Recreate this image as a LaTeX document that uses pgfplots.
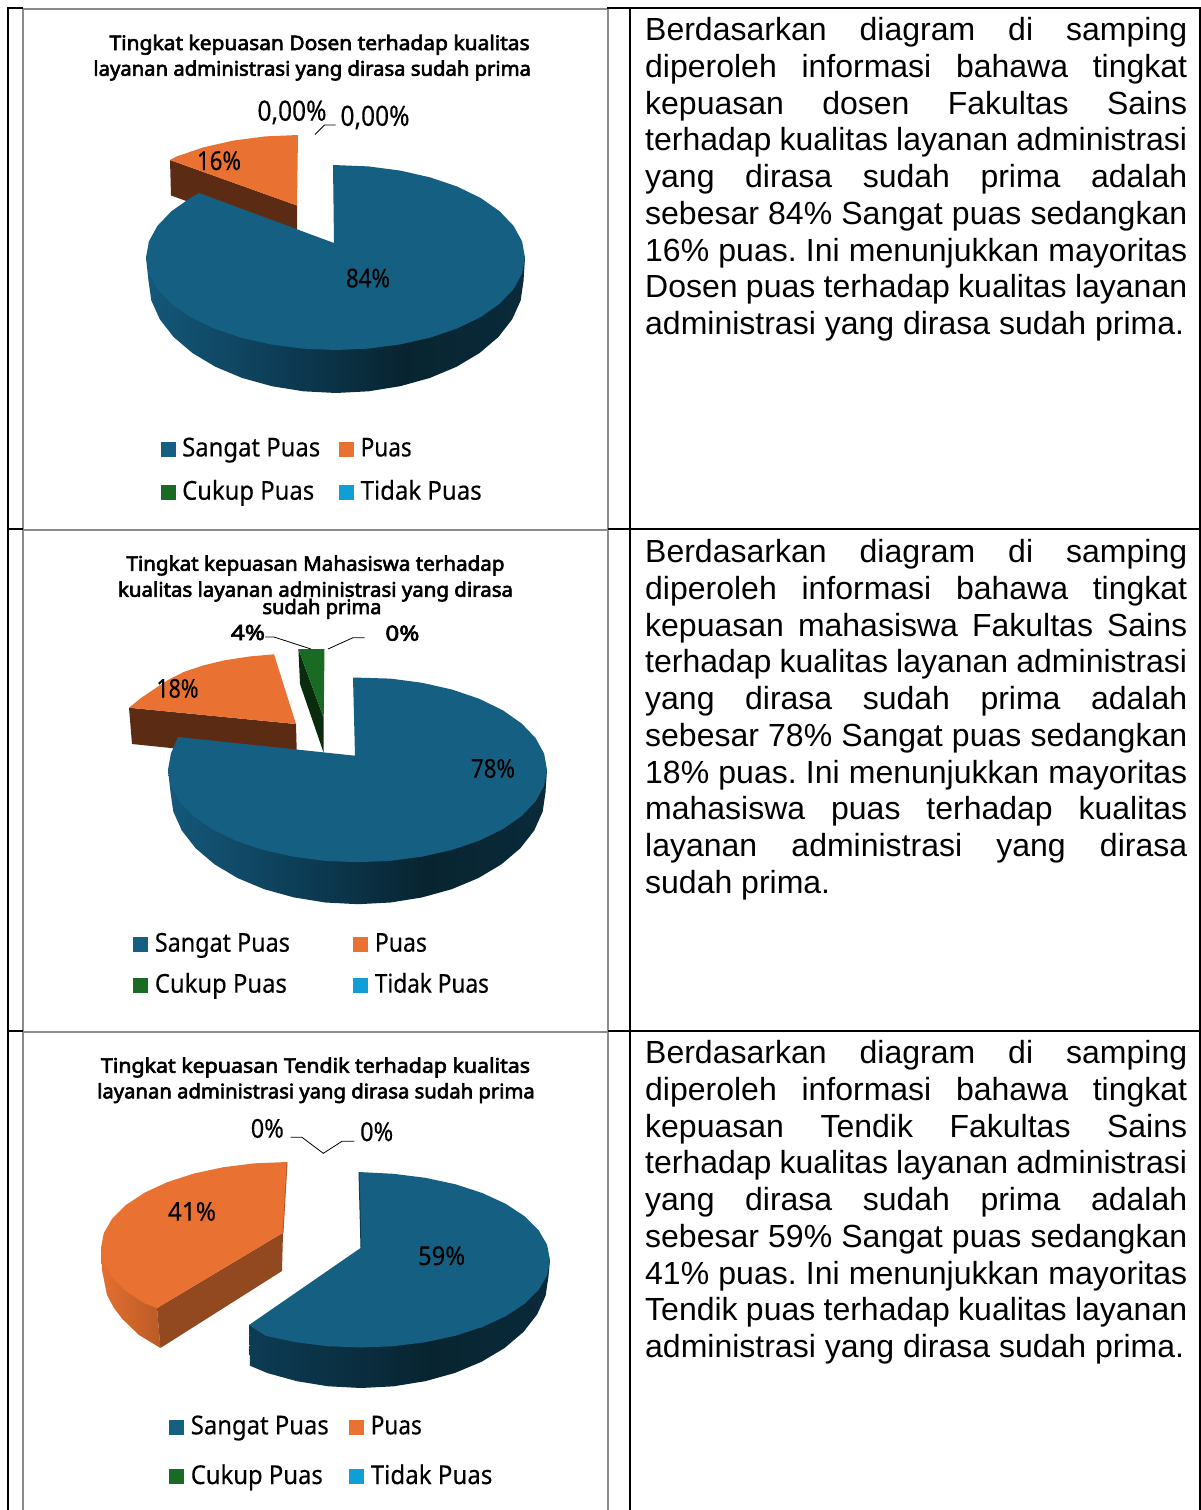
\documentclass[border=0pt]{standalone}
\usepackage{pgfplots}
\usepackage{graphicx}
\usepackage{fontspec}
\pgfplotsset{compat=1.18}
\setmainfont{Liberation Sans}
\newfontfamily\cf[FakeBold=0.25]{Noto Sans}
\newfontfamily\cfb[FakeBold=3]{Noto Sans}
\definecolor{cBlue}{HTML}{156082}
\definecolor{cOrange}{HTML}{E97132}
\definecolor{cGreen}{HTML}{196B24}
\definecolor{cSky}{HTML}{0F9ED5}
\definecolor{cBrown}{HTML}{5C2B14}
\definecolor{cBrownB}{HTML}{93491F}
\definecolor{cGreenD}{HTML}{0A2B0E}
\definecolor{sA}{HTML}{14587A}
\definecolor{sB}{HTML}{0D3C55}
\definecolor{sC}{HTML}{082430}
\definecolor{sD}{HTML}{0A2A3A}
\definecolor{oA}{HTML}{E56F30}
\definecolor{oB}{HTML}{B95B26}
\pgfdeclarehorizontalshading{sideP}{100bp}{color(0bp)=(sA); color(25bp)=(sA); color(43bp)=(sB); color(59bp)=(sC); color(75bp)=(sD); color(100bp)=(sD)}
\pgfdeclarehorizontalshading{sideQ}{100bp}{color(0bp)=(sA); color(25bp)=(sB); color(55bp)=(sC); color(75bp)=(sD); color(100bp)=(sD)}
\newcommand\fw[3]{\resizebox{#1pt}{\height}{\cf\fontsize{#2}{#2}\selectfont #3}}
\newcommand\bw[3]{\resizebox{#1pt}{\height}{\cfb\fontsize{#2}{#2}\selectfont #3}}
\newcommand\Txt[2]{\node[anchor=base west,inner sep=0pt] at (axis cs:645,#1) {\fontsize{32}{32}\selectfont\frenchspacing\spaceskip=0.278em plus 3em minus 0.18em\makebox[542pt][s]{#2}};}
\newcommand\Tl[2]{\node[anchor=base west,inner sep=0pt] at (axis cs:645,#1) {\fontsize{32}{32}\selectfont #2};}
\newcommand\Lb[4]{\node[anchor=base,inner sep=0pt] at (axis cs:#1,#2) {\fw{#3}{26}{#4}};}
\newcommand\Lg[3]{\node[anchor=base west,inner sep=0pt] at (axis cs:#1,#2) {#3};}
\begin{document}
\begin{tikzpicture}
\path[use as bounding box] (0,0) rectangle (1201pt,1510pt);
\begin{axis}[
  at={(0pt,0pt)},anchor=south west,
  width=1201pt,height=1510pt,scale only axis,
  xmin=0,xmax=1201,ymin=0,ymax=1510,y dir=reverse,
  hide axis,
]
% ---------- table lines
\addplot[color=black!45,line width=2pt] coordinates {(23,1510)(23,9)(608,9)(608,1510)};
\addplot[color=black!45,line width=2pt] coordinates {(23,530)(608,530)};
\addplot[color=black!45,line width=2pt] coordinates {(23,1032)(608,1032)};
\addplot[color=black,line width=2pt] coordinates {(8,1510)(8,7.5)(23,7.5)};
\addplot[color=black,line width=2pt] coordinates {(607,7.5)(1199.5,7.5)(1199.5,1510)};
\addplot[color=black,line width=2pt] coordinates {(630,7.5)(630,1510)};
\addplot[color=black,line width=2pt] coordinates {(8,529)(23,529)};
\addplot[color=black,line width=2pt] coordinates {(608,529)(1199.5,529)};
\addplot[color=black,line width=2pt] coordinates {(8,1031)(23,1031)};
\addplot[color=black,line width=2pt] coordinates {(608,1031)(1199.5,1031)};

% ---------- panel 1 pie
\addplot[fill=cBrown,draw=none] coordinates {(170,160)(297,205.5)(297,241)(171,195.5)} --cycle;
\addplot[fill=cOrange,draw=none] coordinates {(298,135)(265.1,136.4)(233.2,140.6)(203.25,147.4)(176.2,156.6)(170,160)(297,205.5)} --cycle;
\addplot[shade,shading=sideP,draw=none] coordinates {(146,257.5)(148.5,281)(151.3,300.4)(159.8,319.3)(173.6,337)(192.4,353)(215.5,366.8)(242.25,378)(271.9,386.2)(303.4,391.3)(336,393)(368.6,391.3)(400.1,386.2)(429.75,378)(456.5,366.8)(479.6,353)(498.4,337)(512.2,319.3)(520.7,300.4)(523.5,281)(525,257.5)} --cycle;
\addplot[fill=cBlue,draw=none] coordinates {(333,165)(368.4,166.4)(400.3,170.6)(430.25,177.4)(457.3,186.6)(480.7,198)(499.6,211.25)(513.6,225.9)(522.1,241.4)(525,257.5)(522.1,273.6)(513.6,289.1)(499.6,303.75)(480.7,317)(457.3,328.4)(430.25,337.6)(400.3,344.4)(368.4,348.6)(335.5,350)(302.6,348.6)(270.7,344.4)(240.75,337.6)(213.7,328.4)(190.3,317)(171.4,303.75)(157.4,289.1)(148.9,273.6)(146,257.5)(148.9,241.4)(157.4,225.9)(171.4,211.25)(190.3,198)(199,193)(334,243)} --cycle;
\addplot[color=black,line width=0.8pt] coordinates {(335.5,125)(324.5,125)(315,134.5)};
% ---------- panel 1 legend
\addplot[fill=cBlue,draw=none] coordinates {(161,442)(176,442)(176,457)(161,457)} --cycle;
\addplot[fill=cOrange,draw=none] coordinates {(339,442)(354,442)(354,457)(339,457)} --cycle;
\addplot[fill=cGreen,draw=none] coordinates {(161,485)(176,485)(176,500)(161,500)} --cycle;
\addplot[fill=cSky,draw=none] coordinates {(339,485)(354,485)(354,500)(339,500)} --cycle;

% ---------- panel 2 pie
\addplot[fill=cBrown,draw=none] coordinates {(129,707.7)(296,724)(297,761)(132,744)} --cycle;
\addplot[fill=cOrange,draw=none] coordinates {(274,654.3)(250,656.4)(224.5,660.3)(203,665.5)(183.7,672)(168,680)(155,688.5)(141,698)(129,707.7)(296,724)} --cycle;
\addplot[fill=cGreenD,draw=none] coordinates {(298.4,649)(323.7,718)(323.7,753)(300,684)} --cycle;
\addplot[fill=cGreen,draw=none] coordinates {(298.4,649)(324.5,649)(323.7,718)} --cycle;
\addplot[shade,shading=sideP,draw=none] coordinates {(168,769.7)(170.5,792.2)(173.3,811.6)(181.8,830.5)(195.6,848.2)(214.4,864.2)(237.5,878)(264.25,889.2)(293.9,897.4)(325.4,902.5)(358,904.2)(390.6,902.5)(422.1,897.4)(451.75,889.2)(478.5,878)(501.6,864.2)(520.4,848.2)(534.2,830.5)(542.7,811.6)(545.5,792.2)(547,769.7)} --cycle;
\addplot[fill=cBlue,draw=none] coordinates {(353,677.5)(390.4,678.6)(422.3,682.8)(452.25,689.6)(479.3,698.8)(502.7,710.2)(521.6,723.45)(535.6,738.1)(544.1,753.6)(547,769.7)(544.1,785.8)(535.6,801.3)(521.6,815.95)(502.7,829.2)(479.3,840.6)(452.25,849.8)(422.3,856.6)(390.4,860.8)(357.5,862.2)(324.6,860.8)(292.7,856.6)(262.75,849.8)(235.7,840.6)(212.3,829.2)(193.4,815.95)(179.4,801.3)(170.9,785.8)(168,769.7)(170.9,753.6)(178,737)(355,755.7)} --cycle;
\addplot[color=black,line width=0.8pt] coordinates {(265,637)(274,637)(311,649)};
\addplot[color=black,line width=0.8pt] coordinates {(364.5,637.7)(353,637.7)(328,649)};
\addplot[fill=cBlue,draw=none] coordinates {(133,937)(148,937)(148,952)(133,952)} --cycle;
\addplot[fill=cOrange,draw=none] coordinates {(353,937)(368,937)(368,952)(353,952)} --cycle;
\addplot[fill=cGreen,draw=none] coordinates {(133,978)(148,978)(148,993)(133,993)} --cycle;
\addplot[fill=cSky,draw=none] coordinates {(353,978)(368,978)(368,993)(353,993)} --cycle;

% ---------- panel 3 pie
\addplot[shade,left color=oA,right color=oB,draw=none] coordinates {(101,1248)(102,1270)(107,1295)(114,1308)(122.4,1319)(139,1335)(160.4,1348)(157,1308)} --cycle;
\addplot[fill=cBrownB,draw=none] coordinates {(157,1308)(283,1232.7)(282,1271)(160.4,1348)} --cycle;
\addplot[fill=cOrange,draw=none] coordinates {(287,1162)(254.7,1163.3)(223.4,1167.2)(194,1173.5)(167.4,1182.1)(144.5,1192.7)(125.9,1205)(112.2,1218.6)(103.8,1233.1)(101,1248)(103.8,1262.9)(112.2,1277.4)(125.9,1291)(144.5,1303.3)(157,1308)(283,1232.7)} --cycle;
\addplot[color=oB,line width=1pt] coordinates {(287,1162)(283,1232.7)};
\addplot[shade,shading=sideQ,draw=none] coordinates {(249,1325)(250,1365.7)(267.25,1373)(296.9,1381.2)(328.4,1386.3)(361,1388)(393.6,1386.3)(425.1,1381.2)(454.75,1373)(481.5,1361.8)(504.6,1348)(523.4,1332)(537.2,1314.3)(545.7,1295.4)(548.5,1276)(550,1260)} --cycle;
\addplot[fill=cBlue,draw=none] coordinates {(359,1172)(393.4,1173.8)(425.3,1177.8)(455.25,1184.2)(482.3,1193)(505.7,1203.8)(524.6,1216.25)(538.6,1230.1)(547.1,1244.8)(550,1260)(547.1,1275.2)(538.6,1289.9)(524.6,1303.75)(505.7,1316.2)(482.3,1327)(455.25,1335.8)(425.3,1342.2)(393.4,1346.2)(360.5,1347.5)(327.6,1346.2)(295.7,1342.2)(265.75,1335.8)(249,1325)(361,1247.7)} --cycle;
\addplot[color=sB,line width=1pt] coordinates {(359,1172)(361,1247.7)};
\addplot[color=black,line width=0.8pt] coordinates {(290.6,1137.3)(302,1137.3)(323.3,1153.3)(342,1141.3)(354.3,1141.3)};
\addplot[fill=cBlue,draw=none] coordinates {(169,1420)(184,1420)(184,1435)(169,1435)} --cycle;
\addplot[fill=cOrange,draw=none] coordinates {(349.4,1420)(364.4,1420)(364.4,1435)(349.4,1435)} --cycle;
\addplot[fill=cGreen,draw=none] coordinates {(169,1469)(184,1469)(184,1484)(169,1484)} --cycle;
\addplot[fill=cSky,draw=none] coordinates {(349.4,1469)(364.4,1469)(364.4,1484)(349.4,1484)} --cycle;

% ---------- panel 1 text
\node[anchor=base,inner sep=0pt] at (axis cs:319.6,50) {\bw{420}{20}{Tingkat kepuasan Dosen terhadap kualitas}};
\node[anchor=base,inner sep=0pt] at (axis cs:312.2,75.7) {\bw{437.5}{20}{layanan administrasi yang dirasa sudah prima}};
\node[anchor=base,inner sep=0pt] at (axis cs:292,120.7) {\fw{69}{28}{0,00\%}};
\node[anchor=base,inner sep=0pt] at (axis cs:375,125.8) {\fw{69}{28}{0,00\%}};
\Lb{219}{170}{44}{16\%}
\Lb{368}{287.4}{44}{84\%}
\Lg{182}{456.4}{\fw{138}{26}{Sangat Puas}}
\Lg{360.5}{456.4}{\fw{51}{26}{Puas}}
\Lg{182}{499.7}{\fw{132}{26}{Cukup Puas}}
\Lg{360.5}{499.7}{\fw{121}{26}{Tidak Puas}}
% ---------- panel 2 text
\node[anchor=base,inner sep=0pt] at (axis cs:315.5,570.7) {\bw{378}{20}{Tingkat kepuasan Mahasiswa terhadap}};
\node[anchor=base,inner sep=0pt] at (axis cs:315.5,596.7) {\bw{395}{20}{kualitas layanan administrasi yang dirasa}};
\node[anchor=base,inner sep=0pt] at (axis cs:322,614) {\bw{119}{20}{sudah prima}};
\node[anchor=base,inner sep=0pt] at (axis cs:248,640) {\bw{34}{21}{4\%}};
\node[anchor=base,inner sep=0pt] at (axis cs:402.4,640.7) {\bw{34}{21}{0\%}};
\Lb{177.5}{697.7}{42}{18\%}
\Lb{493}{777.7}{44}{78\%}
\Lg{154.7}{951.7}{\fw{135}{26}{Sangat Puas}}
\Lg{374.7}{951.7}{\fw{52}{26}{Puas}}
\Lg{154.7}{992.7}{\fw{132}{26}{Cukup Puas}}
\Lg{374.7}{992.7}{\fw{114}{26}{Tidak Puas}}
% ---------- panel 3 text
\node[anchor=base,inner sep=0pt] at (axis cs:315.5,1072.7) {\bw{429}{20}{Tingkat kepuasan Tendik terhadap kualitas}};
\node[anchor=base,inner sep=0pt] at (axis cs:316,1098.3) {\bw{437.5}{20}{layanan administrasi yang dirasa sudah prima}};
\Lb{267.3}{1137.7}{33}{0\%}
\Lb{376.7}{1141}{33}{0\%}
\Lb{192}{1220.7}{48}{41\%}
\Lb{441.6}{1265}{47}{59\%}
\Lg{190.6}{1434.3}{\fw{138}{26}{Sangat Puas}}
\Lg{370.6}{1434.3}{\fw{51}{26}{Puas}}
\Lg{190.6}{1484}{\fw{132}{26}{Cukup Puas}}
\Lg{370.6}{1484}{\fw{121.6}{26}{Tidak Puas}}
% ---------- right column
\Txt{40.5}{Berdasarkan diagram di samping}
\Txt{77.25}{diperoleh informasi bahawa tingkat}
\Txt{114}{kepuasan dosen Fakultas Sains}
\Txt{150.75}{terhadap kualitas layanan administrasi}
\Txt{187.5}{yang dirasa sudah prima adalah}
\Txt{224.25}{sebesar 84\% Sangat puas sedangkan}
\Txt{261}{16\% puas. Ini menunjukkan mayoritas}
\Txt{297.75}{Dosen puas terhadap kualitas layanan}
\Tl{334.5}{administrasi yang dirasa sudah prima.}
\Txt{562.5}{Berdasarkan diagram di samping}
\Txt{599.25}{diperoleh informasi bahawa tingkat}
\Txt{636}{kepuasan mahasiswa Fakultas Sains}
\Txt{672.75}{terhadap kualitas layanan administrasi}
\Txt{709.5}{yang dirasa sudah prima adalah}
\Txt{746.25}{sebesar 78\% Sangat puas sedangkan}
\Txt{783}{18\% puas. Ini menunjukkan mayoritas}
\Txt{819.75}{mahasiswa puas terhadap kualitas}
\Txt{856.5}{layanan administrasi yang dirasa}
\Tl{893.25}{sudah prima.}
\Txt{1063.5}{Berdasarkan diagram di samping}
\Txt{1100.25}{diperoleh informasi bahawa tingkat}
\Txt{1137}{kepuasan Tendik Fakultas Sains}
\Txt{1173.75}{terhadap kualitas layanan administrasi}
\Txt{1210.5}{yang dirasa sudah prima adalah}
\Txt{1247.25}{sebesar 59\% Sangat puas sedangkan}
\Txt{1284}{41\% puas. Ini menunjukkan mayoritas}
\Txt{1320.75}{Tendik puas terhadap kualitas layanan}
\Tl{1357.5}{administrasi yang dirasa sudah prima.}
\end{axis}
\end{tikzpicture}
\end{document}
